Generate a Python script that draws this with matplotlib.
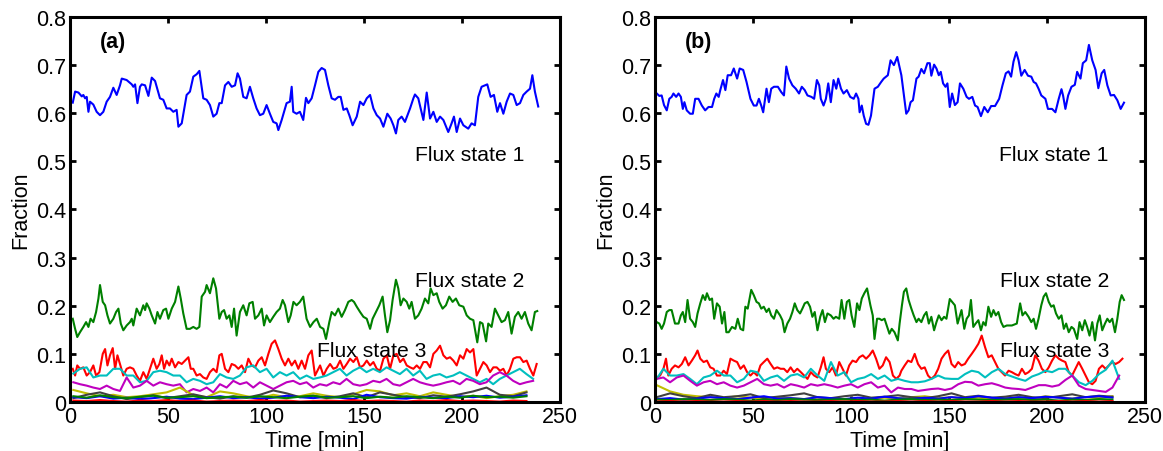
import numpy as np
import matplotlib
matplotlib.use('Agg')
import matplotlib.pyplot as plt

plt.rcParams['font.family'] = ['Liberation Sans', 'DejaVu Sans']

# ---- panel (a) ----
t_blue_a = [1.4, 2.6, 4.3, 6.0, 6.8, 7.7, 8.5, 9.4, 10.2, 11.9, 13.6, 15.3, 17.0, 18.7, 20.4, 22.1, 23.8, 25.5,
            26.4, 28.9, 31.5, 32.3, 33.2, 34.4, 35.7, 36.6, 38.3, 40.0, 41.7, 43.4, 45.9, 47.6, 49.3, 51.0, 52.7,
            54.4, 55.3, 57.0, 59.5, 61.2, 62.9, 64.6, 66.0, 68.0, 69.7, 71.4, 73.1, 74.8, 76.2, 77.4, 79.1, 80.8,
            82.5, 84.2, 85.5, 86.7, 88.4, 90.1, 91.8, 93.5, 95.2, 96.9, 98.6, 100.3, 102.0, 103.7, 105.4, 106.3,
            108.0, 110.5, 112.2, 113.1, 113.9, 115.6, 117.3, 119.0, 120.4, 121.6, 123.3, 125.0, 126.7,
            128.4, 130.1, 131.8, 133.5, 135.2, 136.9, 138.1, 139.5, 141.2, 142.5, 144.2, 146.3, 148.0, 149.7,
            151.4, 153.1, 154.8, 156.5, 158.2, 159.9, 161.9, 163.6, 165.0, 166.3, 167.5, 169.2, 170.9, 173.5,
            175.2, 176.0, 177.7, 180.3, 182.0, 183.7, 185.4, 187.1, 188.8, 190.5, 193.0, 194.7, 195.9, 197.3,
            199.0, 200.7, 203.2, 204.9, 206.6, 208.3, 210.0, 211.7, 212.9, 214.6, 216.3, 218.0, 219.4, 221.1,
            222.8, 224.5, 226.2, 227.9, 229.6, 231.3, 233.0, 234.7, 235.9, 237.2, 238.9]
blue_a = [0.622, 0.645, 0.643, 0.635, 0.638, 0.631, 0.634, 0.603, 0.624, 0.618, 0.603, 0.596, 0.603, 0.624,
          0.634, 0.653, 0.638, 0.658, 0.672, 0.669, 0.660, 0.655, 0.660, 0.621, 0.655, 0.660, 0.658, 0.636,
          0.674, 0.667, 0.631, 0.628, 0.610, 0.610, 0.603, 0.607, 0.572, 0.579, 0.638, 0.645, 0.676, 0.681,
          0.688, 0.631, 0.628, 0.617, 0.593, 0.599, 0.621, 0.621, 0.658, 0.665, 0.655, 0.658, 0.683, 0.672,
          0.634, 0.631, 0.655, 0.631, 0.610, 0.596, 0.599, 0.617, 0.599, 0.582, 0.579, 0.565, 0.586, 0.621,
          0.624, 0.655, 0.603, 0.599, 0.603, 0.586, 0.632, 0.621, 0.631, 0.658, 0.686,
          0.694, 0.690, 0.658, 0.631, 0.628, 0.634, 0.634, 0.607, 0.610, 0.596, 0.575, 0.593, 0.624, 0.617,
          0.631, 0.638, 0.610, 0.596, 0.589, 0.572, 0.599, 0.589, 0.575, 0.558, 0.586, 0.593, 0.582, 0.610,
          0.631, 0.639, 0.631, 0.586, 0.643, 0.589, 0.603, 0.582, 0.593, 0.586, 0.561, 0.579, 0.593, 0.561,
          0.589, 0.575, 0.568, 0.579, 0.575, 0.634, 0.655, 0.658, 0.660, 0.634, 0.638, 0.603, 0.621, 0.599,
          0.624, 0.641, 0.638, 0.617, 0.621, 0.638, 0.645, 0.651, 0.679, 0.645, 0.614]

t_green_a = [1.4, 2.6, 3.7, 5.1, 6.8, 8.2, 9.4, 10.5, 11.9, 13.3, 14.5, 15.3, 16.7, 17.9, 19.1, 20.4, 22.1, 23.5,
             24.7, 25.9, 27.2, 28.9, 30.6, 31.5, 32.3, 34.0, 35.7, 37.4, 38.3, 39.1, 40.5, 41.7, 43.4, 44.6, 45.9,
             47.6, 49.0, 50.2, 51.9, 53.6, 55.3, 56.5, 57.8, 59.5, 61.2, 62.9, 64.6, 66.0, 67.2, 68.9, 69.7, 71.4,
             73.1, 74.5, 76.2, 77.4, 78.6, 79.9, 81.3, 82.5, 83.7, 85.0, 86.7, 88.4, 90.1, 91.5, 93.2, 94.4, 96.1,
             97.8, 99.0, 100.3, 102.0, 103.7, 105.4, 107.1, 108.5, 109.7, 111.4, 112.6, 114.0, 115.6, 117.3, 119.0,
             120.7, 122.5, 124.2, 125.9, 127.6, 129.3, 130.6, 132.3, 133.5, 135.2, 136.9, 138.6, 140.3, 142.0,
             143.7, 144.9, 146.3, 148.0, 149.7, 151.4, 153.1, 154.4, 156.1, 157.8, 159.5, 160.7, 161.9, 163.3,
             164.6, 166.3, 167.5, 168.7, 170.1, 171.8, 173.1, 174.3, 176.0, 177.7, 179.4, 181.1, 182.8, 184.0,
             185.4, 187.1, 188.4, 190.1, 191.8, 193.5, 195.2, 196.9, 198.6, 200.7, 202.4, 204.1, 205.8, 207.8,
             209.2, 210.5, 212.3, 213.4, 215.1, 216.8, 218.5, 220.2, 221.9, 223.6, 225.3, 227.0, 228.7, 230.4,
             232.1, 233.8, 235.5, 237.2, 238.4]
green_a = [0.173, 0.152, 0.135, 0.145, 0.156, 0.166, 0.156, 0.173, 0.166, 0.187, 0.215, 0.243, 0.208, 0.201,
           0.180, 0.163, 0.173, 0.187, 0.194, 0.163, 0.149, 0.159, 0.166, 0.173, 0.159, 0.194, 0.180, 0.201,
           0.191, 0.205, 0.194, 0.180, 0.163, 0.187, 0.173, 0.191, 0.194, 0.173, 0.194, 0.208, 0.240, 0.215,
           0.184, 0.152, 0.152, 0.156, 0.152, 0.156, 0.219, 0.229, 0.243, 0.226, 0.257, 0.236, 0.173, 0.187,
           0.191, 0.173, 0.180, 0.156, 0.194, 0.138, 0.187, 0.201, 0.180, 0.205, 0.208, 0.173, 0.180, 0.194,
           0.159, 0.180, 0.166, 0.177, 0.187, 0.194, 0.212, 0.201, 0.166, 0.180, 0.208, 0.201, 0.208, 0.219,
           0.173, 0.156, 0.166, 0.173, 0.156, 0.152, 0.131, 0.166, 0.187, 0.180, 0.194, 0.177, 0.191, 0.208,
           0.212, 0.208, 0.198, 0.187, 0.177, 0.173, 0.152, 0.173, 0.187, 0.201, 0.219, 0.180, 0.145, 0.170,
           0.212, 0.254, 0.236, 0.201, 0.215, 0.208, 0.194, 0.208, 0.173, 0.180, 0.194, 0.215, 0.205, 0.236,
           0.222, 0.226, 0.208, 0.194, 0.201, 0.219, 0.208, 0.215, 0.201, 0.198, 0.180, 0.173, 0.170, 0.124,
           0.166, 0.163, 0.126, 0.163, 0.156, 0.194, 0.180, 0.166, 0.170, 0.187, 0.142, 0.177, 0.187, 0.173,
           0.187, 0.163, 0.149, 0.187, 0.189]

t_red_a = [1.4, 2.6, 3.7, 5.1, 6.8, 8.5, 10.2, 11.9, 13.3, 15.0, 16.7, 17.9, 19.1, 20.4, 21.8, 23.0, 24.2, 25.5,
           27.2, 28.9, 30.6, 32.3, 34.0, 35.7, 37.4, 39.1, 40.8, 42.5, 44.2, 45.6, 46.8, 48.0, 49.3, 50.7, 51.9,
           53.6, 55.3, 57.0, 58.7, 60.4, 61.6, 62.9, 64.6, 66.3, 68.0, 69.7, 71.4, 73.1, 74.8, 76.2, 77.4, 79.1,
           80.8, 82.5, 84.2, 85.9, 87.6, 89.3, 91.0, 92.7, 94.4, 96.1, 97.8, 99.5, 101.2, 102.9, 104.6, 106.3,
           108.0, 109.7, 111.4, 113.1, 114.8, 116.5, 118.2, 119.9, 121.6, 123.3, 125.0, 127.6, 129.3, 131.0,
           132.7, 134.4, 136.1, 137.8, 139.5, 141.2, 142.9, 144.6, 146.3, 148.0, 149.7, 151.4, 153.1, 154.8,
           156.5, 158.2, 159.9, 161.6, 163.3, 165.0, 166.7, 168.4, 170.1, 171.8, 173.5, 175.2, 176.9, 178.6,
           180.3, 182.0, 183.7, 185.4, 187.1, 188.8, 190.5, 192.2, 193.9, 195.6, 197.3, 199.0, 200.7, 202.4,
           204.1, 205.8, 207.5, 209.2, 210.9, 212.6, 214.3, 216.0, 217.7, 219.4, 221.1, 222.8, 224.5, 226.2,
           227.9, 229.6, 231.3, 233.0, 234.7, 236.4, 238.1]
red_a = [0.069, 0.055, 0.076, 0.069, 0.072, 0.055, 0.062, 0.076, 0.055, 0.062, 0.100, 0.110, 0.076, 0.097,
         0.112, 0.069, 0.097, 0.079, 0.055, 0.069, 0.072, 0.069, 0.055, 0.044, 0.062, 0.048, 0.069, 0.090,
         0.069, 0.079, 0.097, 0.069, 0.086, 0.076, 0.090, 0.072, 0.083, 0.079, 0.086, 0.093, 0.069, 0.069,
         0.055, 0.058, 0.051, 0.048, 0.062, 0.069, 0.062, 0.097, 0.100, 0.069, 0.062, 0.079, 0.076, 0.069,
         0.076, 0.062, 0.090, 0.076, 0.072, 0.086, 0.093, 0.076, 0.100, 0.121, 0.128, 0.110, 0.090, 0.076,
         0.090, 0.076, 0.086, 0.069, 0.086, 0.069, 0.097, 0.107, 0.055, 0.076, 0.055, 0.069, 0.079, 0.069,
         0.072, 0.086, 0.069, 0.079, 0.090, 0.083, 0.093, 0.072, 0.076, 0.086, 0.076, 0.083, 0.069, 0.065,
         0.090, 0.097, 0.069, 0.097, 0.100, 0.083, 0.090, 0.076, 0.072, 0.069, 0.076, 0.069, 0.083, 0.083,
         0.072, 0.100, 0.107, 0.117, 0.097, 0.090, 0.093, 0.086, 0.076, 0.097, 0.090, 0.110, 0.103, 0.110,
         0.055, 0.069, 0.083, 0.076, 0.062, 0.072, 0.072, 0.065, 0.069, 0.055, 0.069, 0.090, 0.093, 0.093,
         0.083, 0.086, 0.069, 0.055, 0.079]

cyan_a = [0.059, 0.069, 0.072, 0.051, 0.055, 0.055, 0.069, 0.069, 0.055, 0.055, 0.041, 0.044, 0.062, 0.065,
          0.062, 0.055, 0.055, 0.041, 0.048, 0.044, 0.037, 0.041, 0.058, 0.051, 0.048, 0.055, 0.072, 0.076,
          0.062, 0.069, 0.051, 0.062, 0.055, 0.062, 0.048, 0.055, 0.048, 0.051, 0.055, 0.062, 0.069, 0.055,
          0.065, 0.072, 0.062, 0.069, 0.062, 0.072, 0.065, 0.058, 0.069, 0.055, 0.065, 0.048, 0.055, 0.058,
          0.051, 0.055, 0.062, 0.055, 0.048, 0.041, 0.048, 0.037, 0.048, 0.055, 0.062, 0.069, 0.058, 0.048]
magenta_a = [0.041, 0.037, 0.034, 0.030, 0.027, 0.034, 0.027, 0.023, 0.051, 0.030, 0.034, 0.044, 0.034, 0.041,
             0.037, 0.034, 0.037, 0.020, 0.027, 0.023, 0.030, 0.020, 0.037, 0.030, 0.044, 0.037, 0.041, 0.030,
             0.041, 0.034, 0.027, 0.034, 0.041, 0.044, 0.037, 0.041, 0.030, 0.037, 0.034, 0.041, 0.037, 0.048,
             0.037, 0.034, 0.037, 0.044, 0.041, 0.048, 0.037, 0.034, 0.041, 0.048, 0.041, 0.037, 0.034, 0.037,
             0.041, 0.044, 0.037, 0.048, 0.044, 0.037, 0.041, 0.055, 0.062, 0.055, 0.044, 0.037, 0.041, 0.044]
olive_a = [0.025, 0.018, 0.012, 0.015, 0.010, 0.012, 0.016, 0.020, 0.030, 0.014, 0.010, 0.022, 0.018, 0.012,
           0.008, 0.015, 0.010, 0.012, 0.018, 0.013, 0.010, 0.016, 0.025, 0.022, 0.014, 0.018, 0.012, 0.020,
           0.015, 0.010, 0.013, 0.008, 0.012, 0.015, 0.022]
gray_a = [0.008, 0.015, 0.020, 0.012, 0.006, 0.010, 0.014, 0.008, 0.012, 0.016, 0.010, 0.007, 0.012, 0.009,
          0.015, 0.024, 0.018, 0.010, 0.013, 0.008, 0.012, 0.018, 0.010, 0.020, 0.015, 0.010, 0.008, 0.014,
          0.011, 0.016, 0.022, 0.030, 0.015, 0.012, 0.020]
blue2_a = [0.010, 0.008, 0.012, 0.007, 0.009, 0.006, 0.008, 0.011, 0.007, 0.006, 0.009, 0.012, 0.008, 0.010,
           0.007, 0.009, 0.013, 0.010, 0.008, 0.011, 0.009, 0.006, 0.015, 0.010, 0.008, 0.007, 0.011, 0.009,
           0.008, 0.012, 0.010, 0.013, 0.009, 0.011, 0.014]
green2_a = [0.012, 0.009, 0.014, 0.010, 0.008, 0.011, 0.013, 0.009, 0.010, 0.012, 0.008, 0.010, 0.011, 0.009,
            0.012, 0.010, 0.008, 0.011, 0.013, 0.009, 0.010, 0.012, 0.008, 0.011, 0.009, 0.012, 0.010, 0.008,
            0.011, 0.009, 0.013, 0.010, 0.011, 0.009, 0.012]
red2_a = [0.003, 0.002, 0.004, 0.002, 0.001, 0.003, 0.002, 0.004, 0.002, 0.003, 0.001, 0.002, 0.003, 0.002,
          0.004, 0.002, 0.003, 0.001, 0.002, 0.003, 0.002, 0.004, 0.002, 0.003, 0.002, 0.001, 0.003, 0.002,
          0.004, 0.002, 0.003, 0.002, 0.001, 0.003, 0.002]

# ---- panel (b) ----
t_blue_b = [0.9, 2.2, 3.4, 4.6, 6.0, 7.3, 8.5, 9.4, 10.8, 12.0, 13.2, 14.2, 15.0, 16.2, 17.9, 19.3, 20.5, 22.2,
            23.9, 25.6, 27.3, 29.1, 30.2, 31.3, 32.5, 33.3, 34.7, 35.9, 37.1, 38.8, 40.2, 41.9, 43.2, 45.0, 46.7,
            48.7, 50.4, 51.8, 53.0, 54.2, 55.2, 56.9, 58.1, 59.3, 60.7, 62.7, 64.4, 65.8, 67.0, 68.4, 70.1, 71.8,
            73.5, 74.9, 76.4, 77.8, 79.8, 81.2, 82.6, 83.8, 84.6, 86.0, 87.2, 88.4, 89.7, 91.1, 92.5, 93.5, 94.9,
            96.2, 97.9, 99.6, 101.4, 102.6, 103.8, 104.4, 105.5, 106.5, 107.7, 108.9, 110.2, 112.0, 113.7, 115.4,
            116.7, 118.8, 120.2, 121.9, 123.6, 125.7, 127.0, 128.2, 129.4, 130.4, 131.6, 133.4, 134.5, 135.9,
            137.3, 139.0, 140.2, 141.0, 142.4, 143.6, 144.8, 145.8, 147.0, 148.2, 149.2, 150.4, 151.6, 153.0,
            154.4, 155.6, 157.3, 159.0, 160.2, 161.9, 163.3, 164.6, 166.3, 168.0, 169.8, 171.5, 173.5, 175.6,
            177.3, 179.0, 180.4, 181.7, 182.9, 184.3, 185.5, 186.9, 188.6, 190.3, 192.0, 193.2, 194.4, 195.7,
            197.1, 199.2, 200.5, 202.6, 204.3, 206.0, 207.4, 208.2, 209.4, 210.8, 212.5, 214.2, 215.4, 217.1,
            218.3, 220.0, 221.4, 223.1, 224.8, 226.2, 227.9, 229.2, 230.8, 232.5, 234.2, 235.9, 237.6, 239.3]
blue_b = [0.641, 0.636, 0.637, 0.617, 0.606, 0.630, 0.634, 0.641, 0.634, 0.641, 0.634, 0.609, 0.623, 0.606,
          0.599, 0.599, 0.630, 0.630, 0.616, 0.606, 0.613, 0.613, 0.630, 0.641, 0.634, 0.648, 0.669, 0.648,
          0.679, 0.679, 0.693, 0.672, 0.693, 0.690, 0.665, 0.630, 0.616, 0.616, 0.630, 0.616, 0.602, 0.651,
          0.623, 0.651, 0.655, 0.655, 0.644, 0.637, 0.697, 0.672, 0.658, 0.651, 0.641, 0.655, 0.648, 0.637,
          0.634, 0.630, 0.669, 0.658, 0.630, 0.616, 0.630, 0.662, 0.623, 0.669, 0.651, 0.672, 0.651, 0.641,
          0.648, 0.634, 0.630, 0.641, 0.630, 0.602, 0.616, 0.595, 0.578, 0.576, 0.595, 0.651, 0.655, 0.665,
          0.672, 0.679, 0.710, 0.700, 0.717, 0.679, 0.637, 0.599, 0.606, 0.623, 0.627, 0.672, 0.676, 0.692,
          0.683, 0.704, 0.704, 0.678, 0.701, 0.693, 0.679, 0.686, 0.662, 0.655, 0.662, 0.613, 0.641, 0.617,
          0.623, 0.662, 0.651, 0.634, 0.630, 0.634, 0.616, 0.613, 0.594, 0.613, 0.602, 0.615, 0.615, 0.630,
          0.658, 0.683, 0.687, 0.676, 0.707, 0.727, 0.710, 0.678, 0.690, 0.678, 0.676, 0.665, 0.662, 0.651,
          0.637, 0.630, 0.609, 0.609, 0.602, 0.630, 0.650, 0.637, 0.609, 0.637, 0.655, 0.659, 0.686, 0.672,
          0.704, 0.710, 0.742, 0.710, 0.690, 0.652, 0.683, 0.690, 0.658, 0.637, 0.638, 0.627, 0.609, 0.622]

t_green_b = [0.9, 2.2, 3.4, 4.6, 6.0, 7.3, 8.5, 10.2, 12.0, 13.2, 14.2, 15.4, 16.6, 17.9, 19.3, 20.5, 21.7, 23.1,
             24.4, 25.6, 26.5, 27.9, 29.1, 30.2, 31.6, 33.0, 34.2, 35.4, 36.4, 37.6, 39.3, 41.0, 42.2, 43.6, 45.0,
             46.1, 47.3, 49.1, 50.4, 51.8, 53.0, 54.2, 55.5, 56.9, 58.1, 59.3, 60.7, 62.0, 63.8, 65.0, 66.1, 67.5,
             68.9, 70.1, 71.3, 72.6, 74.0, 75.2, 76.4, 77.8, 79.1, 80.3, 81.5, 82.9, 84.3, 85.5, 86.7, 88.0, 89.7,
             91.1, 92.3, 94.0, 95.2, 96.6, 97.9, 99.1, 100.3, 101.7, 103.1, 104.3, 105.5, 106.8, 108.2, 109.9,
             111.1, 112.0, 113.3, 114.5, 115.7, 117.1, 118.5, 119.6, 120.8, 122.2, 123.9, 124.8, 126.0, 127.0,
             128.2, 129.4, 130.8, 132.0, 133.4, 134.5, 135.9, 137.3, 138.5, 139.7, 141.0, 142.4, 143.6, 144.8,
             146.2, 147.5, 148.7, 150.4, 151.6, 153.0, 154.4, 155.6, 156.4, 157.8, 159.0, 160.2, 161.2, 162.4,
             163.6, 165.0, 166.3, 167.5, 168.7, 170.1, 171.5, 172.7, 173.9, 175.2, 176.6, 177.8, 179.5, 182.1,
             184.6, 186.3, 187.5, 188.9, 190.6, 192.0, 193.2, 194.4, 195.7, 197.1, 198.3, 199.5, 200.9, 202.2,
             203.4, 204.6, 206.0, 207.4, 208.6, 209.8, 211.1, 212.5, 213.7, 215.4, 216.6, 218.0, 219.3, 220.5,
             221.7, 223.1, 224.5, 225.7, 226.9, 228.2, 229.6, 230.8, 232.0, 233.3, 234.7, 235.9, 237.1, 238.1,
             239.3]
green_b = [0.166, 0.163, 0.152, 0.163, 0.187, 0.191, 0.191, 0.163, 0.163, 0.180, 0.187, 0.166, 0.212, 0.173,
           0.166, 0.156, 0.184, 0.205, 0.222, 0.212, 0.226, 0.212, 0.215, 0.173, 0.205, 0.198, 0.163, 0.187,
           0.145, 0.145, 0.156, 0.152, 0.173, 0.152, 0.149, 0.198, 0.194, 0.233, 0.222, 0.208, 0.205, 0.194,
           0.198, 0.187, 0.194, 0.180, 0.173, 0.191, 0.180, 0.170, 0.145, 0.163, 0.173, 0.187, 0.205, 0.191,
           0.184, 0.194, 0.205, 0.208, 0.198, 0.177, 0.187, 0.149, 0.177, 0.191, 0.166, 0.184, 0.180, 0.173,
           0.177, 0.173, 0.212, 0.173, 0.208, 0.212, 0.180, 0.156, 0.205, 0.191, 0.215, 0.226, 0.236, 0.201,
           0.180, 0.131, 0.173, 0.173, 0.170, 0.173, 0.156, 0.142, 0.152, 0.145, 0.128, 0.163, 0.201, 0.229,
           0.236, 0.212, 0.194, 0.180, 0.166, 0.173, 0.166, 0.180, 0.187, 0.163, 0.177, 0.149, 0.166, 0.180,
           0.170, 0.177, 0.173, 0.214, 0.208, 0.201, 0.163, 0.180, 0.191, 0.152, 0.173, 0.180, 0.212, 0.156,
           0.163, 0.170, 0.149, 0.166, 0.159, 0.198, 0.177, 0.191, 0.180, 0.187, 0.166, 0.156, 0.159, 0.159,
           0.163, 0.205, 0.180, 0.187, 0.177, 0.166, 0.173, 0.152, 0.173, 0.201, 0.219, 0.226, 0.208, 0.198,
           0.201, 0.184, 0.173, 0.180, 0.152, 0.163, 0.145, 0.156, 0.152, 0.131, 0.166, 0.149, 0.170, 0.156,
           0.138, 0.166, 0.128, 0.163, 0.180, 0.149, 0.163, 0.173, 0.166, 0.173, 0.145, 0.173, 0.208, 0.222,
           0.212]

t_red_b = [0.85, 2.6, 4.3, 5.6, 6.8, 8.5, 10.2, 12.0, 13.7, 15.4, 17.1, 18.8, 20.5, 21.7, 23.1, 24.8, 26.5, 28.2,
           29.9, 31.6, 33.3, 35.0, 36.7, 38.5, 40.2, 41.9, 43.6, 45.3, 47.0, 48.7, 50.4, 52.1, 53.8, 55.5, 57.3,
           59.0, 60.7, 62.4, 64.1, 65.8, 67.5, 69.2, 70.9, 72.6, 74.4, 76.1, 77.8, 79.5, 81.2, 82.9, 84.6, 86.0,
           87.2, 88.9, 90.6, 92.3, 94.0, 95.7, 97.4, 99.1, 100.8, 102.6, 104.3, 106.0, 107.7, 109.4, 111.1, 112.8,
           114.5, 116.2, 117.9, 119.7, 121.4, 123.1, 124.8, 125.7, 127.4, 129.1, 130.8, 132.5, 134.2, 135.9,
           137.6, 139.3, 141.0, 142.8, 144.5, 146.2, 147.9, 149.6, 151.3, 153.0, 154.7, 156.4, 158.1, 159.8,
           161.6, 163.3, 165.0, 166.7, 168.4, 170.1, 171.8, 173.5, 175.2, 176.9, 178.6, 180.4, 182.1, 183.8,
           185.5, 187.2, 188.9, 190.6, 192.3, 194.0, 195.7, 197.4, 199.2, 200.9, 202.6, 204.3, 206.0, 207.7,
           209.4, 211.1, 212.8, 214.5, 216.2, 218.0, 219.7, 221.4, 223.1, 224.8, 226.5, 228.2, 229.9, 231.6,
           233.3, 235.0, 236.8, 238.5]
red_b = [0.051, 0.055, 0.069, 0.090, 0.055, 0.069, 0.076, 0.072, 0.079, 0.093, 0.076, 0.086, 0.097, 0.107,
         0.090, 0.083, 0.086, 0.072, 0.069, 0.055, 0.055, 0.065, 0.058, 0.090, 0.086, 0.083, 0.069, 0.076,
         0.062, 0.055, 0.062, 0.055, 0.076, 0.083, 0.090, 0.079, 0.069, 0.072, 0.069, 0.069, 0.062, 0.072,
         0.062, 0.069, 0.062, 0.055, 0.048, 0.062, 0.055, 0.051, 0.072, 0.093, 0.069, 0.062, 0.072, 0.055,
         0.083, 0.069, 0.055, 0.076, 0.086, 0.083, 0.093, 0.097, 0.090, 0.097, 0.107, 0.090, 0.069, 0.076,
         0.093, 0.083, 0.055, 0.048, 0.055, 0.065, 0.076, 0.086, 0.083, 0.100, 0.079, 0.069, 0.072, 0.055,
         0.048, 0.055, 0.069, 0.090, 0.100, 0.107, 0.079, 0.072, 0.083, 0.076, 0.079, 0.090, 0.100, 0.110,
         0.121, 0.138, 0.114, 0.093, 0.097, 0.083, 0.069, 0.062, 0.055, 0.065, 0.062, 0.058, 0.055, 0.069,
         0.058, 0.062, 0.069, 0.097, 0.086, 0.069, 0.062, 0.072, 0.086, 0.097, 0.090, 0.086, 0.083, 0.062,
         0.055, 0.069, 0.083, 0.069, 0.055, 0.041, 0.037, 0.044, 0.069, 0.076, 0.069, 0.076, 0.083, 0.079,
         0.083, 0.090]

cyan_b = [0.048, 0.069, 0.055, 0.055, 0.058, 0.048, 0.037, 0.051, 0.055, 0.065, 0.055, 0.055, 0.041, 0.048,
          0.065, 0.062, 0.044, 0.051, 0.055, 0.044, 0.055, 0.058, 0.051, 0.069, 0.055, 0.044, 0.083, 0.055,
          0.062, 0.041, 0.048, 0.051, 0.058, 0.048, 0.055, 0.044, 0.048, 0.044, 0.041, 0.041, 0.043, 0.048,
          0.055, 0.049, 0.048, 0.048, 0.058, 0.065, 0.062, 0.051, 0.062, 0.069, 0.058, 0.053, 0.048, 0.044,
          0.053, 0.058, 0.065, 0.062, 0.069, 0.069, 0.055, 0.041, 0.035, 0.044, 0.058, 0.067, 0.086, 0.048]
magenta_b = [0.048, 0.051, 0.041, 0.051, 0.055, 0.044, 0.034, 0.041, 0.044, 0.037, 0.041, 0.034, 0.030, 0.034,
             0.041, 0.048, 0.037, 0.034, 0.037, 0.030, 0.037, 0.034, 0.030, 0.037, 0.034, 0.037, 0.034, 0.030,
             0.034, 0.037, 0.030, 0.037, 0.041, 0.030, 0.034, 0.020, 0.030, 0.027, 0.027, 0.023, 0.025, 0.027,
             0.028, 0.025, 0.028, 0.037, 0.042, 0.041, 0.034, 0.037, 0.039, 0.035, 0.030, 0.028, 0.027, 0.025,
             0.030, 0.035, 0.035, 0.032, 0.035, 0.046, 0.055, 0.034, 0.027, 0.025, 0.023, 0.021, 0.030, 0.055]
olive_b = [0.035, 0.022, 0.015, 0.012, 0.010, 0.008, 0.012, 0.009, 0.007, 0.010, 0.008, 0.006, 0.009, 0.007,
           0.005, 0.008, 0.006, 0.009, 0.007, 0.010, 0.012, 0.008, 0.010, 0.007, 0.009, 0.006, 0.008, 0.010,
           0.007, 0.012, 0.009, 0.007, 0.010, 0.008, 0.012]
gray_b = [0.010, 0.018, 0.012, 0.008, 0.015, 0.010, 0.012, 0.016, 0.008, 0.011, 0.014, 0.018, 0.010, 0.008,
          0.012, 0.015, 0.009, 0.011, 0.014, 0.010, 0.008, 0.012, 0.018, 0.010, 0.013, 0.009, 0.011, 0.015,
          0.010, 0.008, 0.012, 0.016, 0.010, 0.013, 0.011]
blue2_b = [0.006, 0.008, 0.005, 0.007, 0.010, 0.008, 0.006, 0.009, 0.012, 0.007, 0.008, 0.006, 0.010, 0.008,
           0.006, 0.009, 0.007, 0.011, 0.008, 0.006, 0.009, 0.007, 0.010, 0.008, 0.012, 0.009, 0.007, 0.010,
           0.008, 0.011, 0.009, 0.007, 0.010, 0.012, 0.009]
green2_b = [0.005, 0.004, 0.006, 0.005, 0.004, 0.006, 0.005, 0.003, 0.005, 0.004, 0.006, 0.005, 0.004, 0.005,
            0.006, 0.004, 0.005, 0.003, 0.005, 0.006, 0.004, 0.005, 0.004, 0.006, 0.005, 0.004, 0.005, 0.006,
            0.004, 0.005, 0.003, 0.005, 0.004, 0.006, 0.005]
red2_b = [0.001, 0.002, 0.001, 0.002, 0.001, 0.001, 0.002, 0.001, 0.002, 0.001, 0.002, 0.001, 0.001, 0.002,
          0.001, 0.002, 0.001, 0.001, 0.002, 0.001, 0.002, 0.001, 0.002, 0.001, 0.001, 0.002, 0.001, 0.002,
          0.001, 0.001, 0.002, 0.001, 0.002, 0.001, 0.002]

# sampling grids of the lower (minor) states
t_mid_a = 1.7 + 3.4 * np.arange(len(cyan_a))
t_low_a = 1.7 + 6.8 * np.arange(len(olive_a))
t_mid_b = 0.85 + 3.42 * np.arange(len(cyan_b))
t_low_b = 0.85 + 6.84 * np.arange(len(olive_b))

x_ticks = [0, 50, 100, 150, 200, 250]
y_ticks = [0, 0.1, 0.2, 0.3, 0.4, 0.5, 0.6, 0.7, 0.8]
y_labels = ['0', '0.1', '0.2', '0.3', '0.4', '0.5', '0.6', '0.7', '0.8']

C_BLUE = '#0000ff'
C_GREEN = '#008000'
C_RED = '#ff0000'
C_CYAN = '#00bfbf'
C_MAG = '#bf00bf'
C_OLIVE = '#bfbf00'
C_GRAY = '#404040'

FS = 15.5


def draw_panel(ax, tag, series, x_flux):
    for t, v, c in series:
        ax.plot(t, v, color=c, lw=1.5, solid_joinstyle='round')

    ax.set_xlim(0, 250)
    ax.set_ylim(0, 0.8)
    ax.set_xticks(x_ticks)
    ax.set_yticks(y_ticks)
    ax.set_yticklabels(y_labels)
    ax.tick_params(direction='in', length=4, width=2, labelsize=FS, top=True, right=True, pad=3)
    for s in ax.spines.values():
        s.set_linewidth(2.2)

    ax.set_xlabel('Time [min]', fontsize=FS, labelpad=2)
    ax.set_ylabel('Fraction', fontsize=FS, labelpad=3)

    ax.text(15.3, 0.75, tag, fontsize=FS, fontweight='bold', va='center')
    ax.text(x_flux[0], 0.515, 'Flux state 1', fontsize=15.2, va='center')
    ax.text(x_flux[1], 0.252, 'Flux state 2', fontsize=15.2, va='center')
    ax.text(x_flux[2], 0.107, 'Flux state 3', fontsize=15.2, va='center')


fig = plt.figure(figsize=(11.63, 4.52), dpi=100)
ax_a = fig.add_axes([0.0602, 0.1084, 0.4213, 0.8518])
ax_b = fig.add_axes([0.5632, 0.1084, 0.4213, 0.8518])

draw_panel(ax_a, '(a)', [
    (t_blue_a, blue_a, C_BLUE), (t_green_a, green_a, C_GREEN), (t_red_a, red_a, C_RED),
    (t_mid_a, cyan_a, C_CYAN), (t_mid_a, magenta_a, C_MAG), (t_low_a, olive_a, C_OLIVE),
    (t_low_a, gray_a, C_GRAY), (t_low_a, blue2_a, C_BLUE), (t_low_a, green2_a, C_GREEN),
    (t_low_a, red2_a, C_RED),
], (176, 176, 126))
draw_panel(ax_b, '(b)', [
    (t_blue_b, blue_b, C_BLUE), (t_green_b, green_b, C_GREEN), (t_red_b, red_b, C_RED),
    (t_mid_b, cyan_b, C_CYAN), (t_mid_b, magenta_b, C_MAG), (t_low_b, olive_b, C_OLIVE),
    (t_low_b, gray_b, C_GRAY), (t_low_b, blue2_b, C_BLUE), (t_low_b, green2_b, C_GREEN),
    (t_low_b, red2_b, C_RED),
], (175.4, 176, 176))

fig.savefig('out.png', dpi=100)
